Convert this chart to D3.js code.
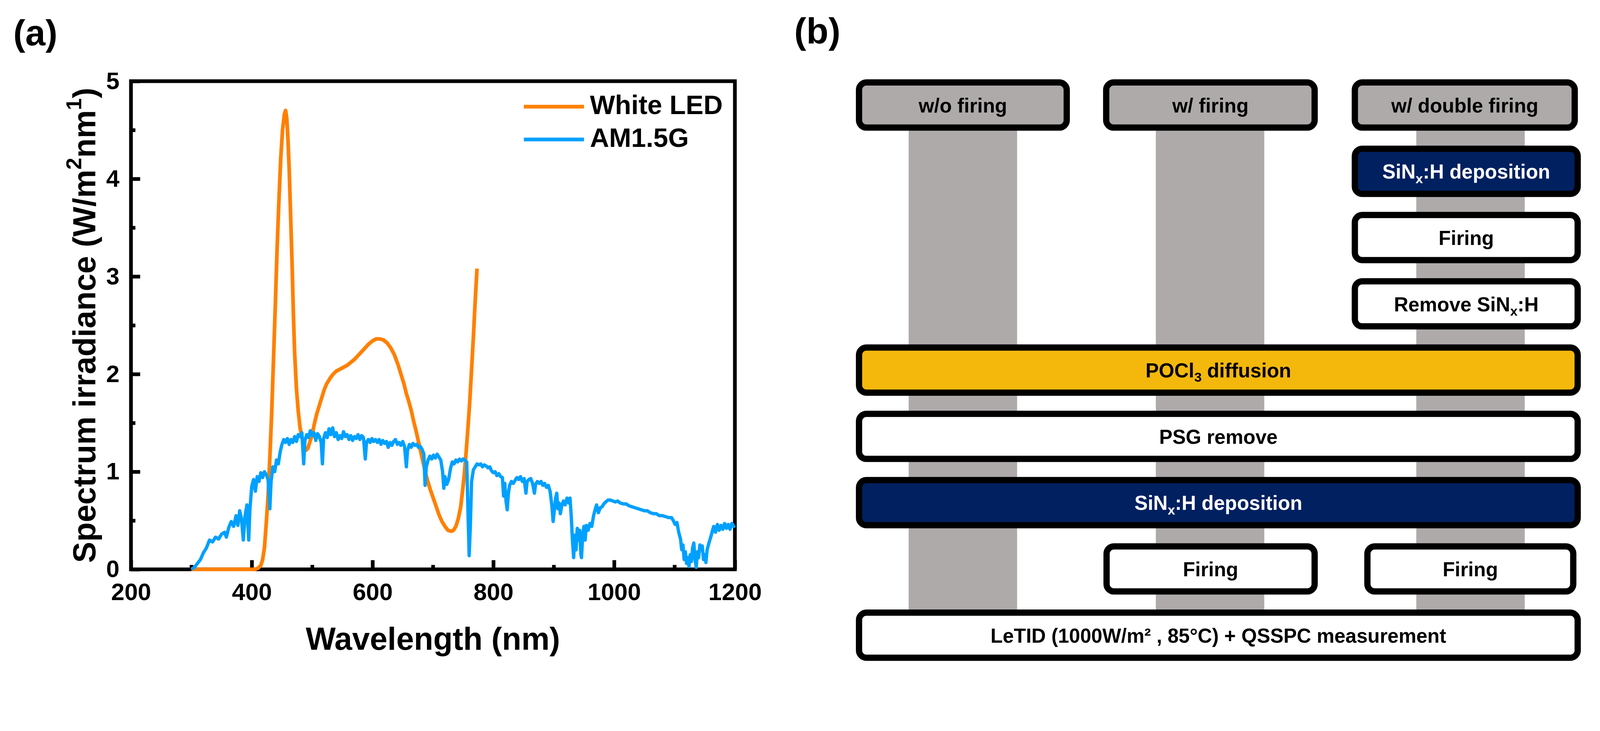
<!DOCTYPE html>
<html>
<head>
<meta charset="utf-8">
<script src="https://cdn.jsdelivr.net/npm/d3@7"></script>
<style>
html, body { margin: 0; padding: 0; width: 100%; height: 100%; overflow: hidden; background: #fff; }
svg { display: block; width: 100vw; height: 100vh; font-family: "Liberation Sans", Arial, sans-serif; font-weight: bold; }
</style>
</head>
<body>
<svg></svg>
<script>
// ---- panel (a) data ----
let ledWave = [300, 400, 405, 410, 415, 418, 421, 424, 427, 430, 433, 436, 439, 442, 445, 448, 451, 454, 456, 458, 460, 462, 464, 467, 469, 471, 474, 477, 480, 483, 486, 490, 493, 496, 500, 504, 508, 512, 516, 520, 524, 530, 535, 540, 546, 552, 558, 564, 570, 576, 582, 588, 594, 600, 606, 612, 618, 624, 630, 636, 642, 647, 652, 656, 660, 664, 668, 672, 676, 680, 684, 688, 692, 696, 700, 705, 710, 715, 720, 725, 730, 734, 738, 742, 746, 749, 752, 755, 758, 761, 764, 767, 770, 773]
let ledIrr = [0, 0, 0, 0.01, 0.04, 0.10, 0.22, 0.47, 0.75, 1.15, 1.60, 2.15, 2.70, 3.29, 3.78, 4.21, 4.50, 4.66, 4.70, 4.62, 4.40, 4.10, 3.70, 3.08, 2.60, 2.22, 1.85, 1.62, 1.45, 1.35, 1.28, 1.22, 1.24, 1.30, 1.38, 1.50, 1.60, 1.68, 1.76, 1.84, 1.90, 1.96, 2.00, 2.03, 2.05, 2.07, 2.09, 2.12, 2.15, 2.19, 2.23, 2.27, 2.31, 2.34, 2.36, 2.36, 2.35, 2.32, 2.27, 2.20, 2.10, 2.00, 1.90, 1.80, 1.72, 1.63, 1.52, 1.42, 1.31, 1.20, 1.09, 0.98, 0.89, 0.81, 0.74, 0.65, 0.56, 0.49, 0.44, 0.40, 0.39, 0.40, 0.44, 0.52, 0.64, 0.80, 0.98, 1.20, 1.45, 1.72, 2.05, 2.38, 2.75, 3.08]

let amWave = [300, 305, 310, 315, 320, 325, 330, 335, 340, 345, 350, 355, 358, 362, 366, 370, 374, 377, 380, 383, 386, 389, 392, 395, 397, 400, 403, 406, 409, 412, 415, 418, 421, 424, 427, 430, 432, 435, 438, 441, 444, 447, 450, 453, 456, 459, 462, 465, 468, 471, 474, 477, 480, 483, 486, 488, 491, 494, 497, 500, 503, 506, 509, 512, 515, 517, 519, 522, 525, 528, 531, 534, 537, 540, 543, 546, 549, 552, 555, 558, 561, 564, 567, 570, 573, 576, 579, 582, 585, 588, 590, 593, 596, 599, 602, 605, 608, 611, 614, 617, 620, 623, 626, 629, 632, 635, 638, 641, 644, 647, 650, 653, 656, 658, 661, 664, 667, 670, 673, 676, 679, 682, 685, 687, 689, 692, 695, 698, 701, 704, 707, 710, 713, 716, 718, 720, 723, 726, 729, 732, 735, 738, 741, 744, 747, 750, 753, 756, 758, 760, 762, 764, 767, 770, 773, 776, 779, 782, 785, 788, 791, 794, 797, 800, 803, 806, 809, 812, 815, 817, 819, 821, 823, 825, 827, 830, 833, 836, 839, 842, 845, 848, 851, 854, 856, 859, 862, 865, 868, 870, 873, 876, 879, 882, 885, 888, 891, 894, 897, 899, 901, 903, 905, 907, 909, 911, 913, 916, 919, 922, 925, 927, 929, 931, 933, 935, 937, 939, 941, 943, 945, 946, 948, 950, 952, 954, 957, 960, 963, 966, 969, 971, 974, 977, 980, 983, 986, 990, 994, 998, 1002, 1006, 1010, 1015, 1020, 1025, 1030, 1035, 1040, 1045, 1050, 1055, 1060, 1065, 1070, 1075, 1080, 1085, 1090, 1095, 1098, 1101, 1104, 1107, 1110, 1112, 1114, 1116, 1118, 1120, 1122, 1124, 1126, 1128, 1130, 1132, 1134, 1136, 1138, 1140, 1142, 1144, 1146, 1148, 1150, 1152, 1154, 1157, 1160, 1163, 1165, 1168, 1171, 1174, 1177, 1180, 1183, 1186, 1189, 1192, 1195, 1198, 1200]
let amIrr = [0, 0.02, 0.06, 0.10, 0.17, 0.22, 0.30, 0.28, 0.33, 0.31, 0.36, 0.38, 0.33, 0.43, 0.49, 0.44, 0.55, 0.45, 0.60, 0.52, 0.30, 0.55, 0.66, 0.30, 0.62, 0.85, 0.92, 0.80, 0.95, 0.90, 0.99, 0.94, 1.00, 0.97, 0.92, 0.62, 0.90, 1.05, 1.00, 1.12, 1.08, 1.20, 1.28, 1.33, 1.30, 1.34, 1.28, 1.33, 1.30, 1.36, 1.31, 1.38, 1.36, 1.40, 1.08, 1.32, 1.38, 1.35, 1.42, 1.37, 1.40, 1.32, 1.39, 1.36, 1.30, 1.08, 1.34, 1.40, 1.35, 1.44, 1.38, 1.45, 1.36, 1.40, 1.33, 1.37, 1.34, 1.41, 1.36, 1.38, 1.33, 1.37, 1.32, 1.36, 1.34, 1.38, 1.33, 1.37, 1.35, 1.13, 1.30, 1.33, 1.30, 1.34, 1.31, 1.33, 1.30, 1.33, 1.28, 1.32, 1.29, 1.31, 1.25, 1.30, 1.27, 1.31, 1.33, 1.28, 1.30, 1.27, 1.31, 1.26, 1.05, 1.22, 1.28, 1.25, 1.29, 1.27, 1.28, 1.25, 1.26, 1.23, 1.18, 0.86, 1.05, 1.12, 1.16, 1.13, 1.17, 1.14, 1.18, 1.15, 1.12, 1.00, 0.83, 0.95, 0.87, 0.92, 1.03, 1.10, 1.08, 1.12, 1.10, 1.13, 1.11, 1.13, 1.12, 1.10, 0.60, 0.14, 0.45, 0.90, 1.02, 1.05, 1.08, 1.07, 1.08, 1.05, 1.07, 1.06, 1.04, 1.05, 1.01, 0.99, 1.00, 0.96, 0.98, 0.95, 0.94, 0.75, 0.88, 0.70, 0.61, 0.78, 0.86, 0.90, 0.88, 0.91, 0.94, 0.92, 0.95, 0.90, 0.93, 0.78, 0.90, 0.92, 0.93, 0.88, 0.78, 0.87, 0.90, 0.88, 0.90, 0.86, 0.88, 0.84, 0.86, 0.80, 0.65, 0.49, 0.60, 0.72, 0.78, 0.62, 0.68, 0.57, 0.64, 0.70, 0.66, 0.73, 0.68, 0.73, 0.55, 0.30, 0.12, 0.35, 0.20, 0.42, 0.30, 0.40, 0.15, 0.12, 0.35, 0.44, 0.30, 0.45, 0.40, 0.47, 0.44, 0.55, 0.62, 0.66, 0.58, 0.63, 0.64, 0.67, 0.69, 0.71, 0.71, 0.70, 0.69, 0.70, 0.68, 0.67, 0.67, 0.65, 0.64, 0.63, 0.62, 0.61, 0.60, 0.60, 0.58, 0.57, 0.57, 0.55, 0.55, 0.54, 0.53, 0.53, 0.50, 0.46, 0.48, 0.38, 0.31, 0.20, 0.25, 0.10, 0.18, 0.06, 0.12, 0.03, 0.15, 0.08, 0.22, 0.27, 0.10, 0.02, 0.18, 0.12, 0.25, 0.20, 0.24, 0.10, 0.15, 0.07, 0.20, 0.27, 0.33, 0.40, 0.44, 0.38, 0.46, 0.40, 0.45, 0.41, 0.47, 0.42, 0.46, 0.41, 0.47, 0.44, 0.45]

let seriesNames = ["White LED", "AM1.5G"]
let xTicks = [200, 400, 600, 800, 1000, 1200]
let yTicks = [0, 1, 2, 3, 4, 5]

// ---- panel (b) content ----
let conditions = ["w/o firing", "w/ firing", "w/ double firing"]
let steps = [
  {parts: [["SiN"], ["x", "sub"], [":H deposition"]], row: 1, span: "right", kind: "navy"},
  {parts: [["Firing"]], row: 2, span: "right", kind: "plain"},
  {parts: [["Remove SiN"], ["x", "sub"], [":H"]], row: 3, span: "right", kind: "plain"},
  {parts: [["POCl"], ["3", "sub"], [" diffusion"]], row: 4, span: "full", kind: "gold"},
  {parts: [["PSG remove"]], row: 5, span: "full", kind: "plain"},
  {parts: [["SiN"], ["x", "sub"], [":H deposition"]], row: 6, span: "full", kind: "navy"},
  {parts: [["Firing"]], row: 7, span: "fire1", kind: "plain"},
  {parts: [["Firing"]], row: 7, span: "fire2", kind: "plain"},
  {parts: [["LeTID (1000W/m\u00b2 , 85\u00b0C) + QSSPC measurement"]], row: 8, span: "full", kind: "plain"}
]

let width = 4337
let height = 1871
let plotLeft = 355, plotRight = 1992, plotTop = 220, plotBottom = 1543

let colors = {led: "#FF8000", am: "#00A0FF", gray: "#AEAAAA", navy: "#002060", gold: "#F4B80C"}

let svg = d3.select("svg")
  .attr("viewBox", "0 0 " + width + " " + height)
  .attr("preserveAspectRatio", "xMidYMin meet")

let xScale = d3.scaleLinear().domain([200, 1200]).range([plotLeft, plotRight])
let yScale = d3.scaleLinear().domain([0, 5]).range([plotBottom, plotTop])

let drawAxes = () => {
  let yMajor = d3.axisLeft(yScale).tickValues(yTicks).tickSize(-25).tickPadding(31).tickFormat(d3.format("d"))
  let yMinor = d3.axisLeft(yScale).tickValues([0.5, 1.5, 2.5, 3.5, 4.5]).tickSize(-12).tickFormat("")
  let xMajor = d3.axisBottom(xScale).tickValues(xTicks).tickSize(-25).tickPadding(37).tickFormat(d3.format("d"))
  let xMinor = d3.axisBottom(xScale).tickValues([300, 500, 700, 900, 1100]).tickSize(-12).tickFormat("")

  let gy = svg.append("g").attr("transform", "translate(" + plotLeft + ",0)")
  gy.append("g").call(yMajor)
  gy.append("g").call(yMinor)
  let gx = svg.append("g").attr("transform", "translate(0," + plotBottom + ")")
  gx.append("g").call(xMajor)
  gx.append("g").call(xMinor)

  svg.selectAll(".domain").remove()
  svg.selectAll(".tick line").attr("stroke", "#000").attr("stroke-width", 10)
  svg.selectAll(".tick text").attr("fill", "#000").attr("font-size", 65)
     .attr("font-family", "Liberation Sans, Arial, sans-serif").attr("font-weight", "bold")

  svg.append("rect")
     .attr("x", plotLeft).attr("y", plotTop)
     .attr("width", plotRight - plotLeft).attr("height", plotBottom - plotTop)
     .attr("fill", "none").attr("stroke", "#000").attr("stroke-width", 10)
}

let drawLines = () => {
  let line = d3.line().x(d => xScale(d[0])).y(d => yScale(d[1]))
  svg.append("path")
     .datum(d3.zip(ledWave, ledIrr))
     .attr("d", line)
     .attr("fill", "none").attr("stroke", colors.led).attr("stroke-width", 10)
     .attr("stroke-linejoin", "round")
  svg.append("path")
     .datum(d3.zip(amWave, amIrr))
     .attr("d", line)
     .attr("fill", "none").attr("stroke", colors.am).attr("stroke-width", 9)
     .attr("stroke-linejoin", "round")
}

let drawLegend = () => {
  let legendColors = [colors.led, colors.am]
  let rows = [289, 378]
  seriesNames.forEach((name, i) => {
    svg.append("line")
       .attr("x1", 1420).attr("x2", 1583).attr("y1", rows[i]).attr("y2", rows[i])
       .attr("stroke", legendColors[i]).attr("stroke-width", 10)
    svg.append("text")
       .attr("x", 1599).attr("y", rows[i] + 20)
       .attr("font-size", 72)
       .text(name)
  })
}

let drawTitles = () => {
  svg.append("text")
     .attr("x", (plotLeft + plotRight) / 2).attr("y", 1761)
     .attr("text-anchor", "middle").attr("font-size", 86)
     .text("Wavelength (nm)")

  let yt = svg.append("text")
     .attr("transform", "translate(258," + ((plotTop + plotBottom) / 2) + ") rotate(-90)")
     .attr("text-anchor", "middle").attr("font-size", 86)
  yt.append("tspan").text("Spectrum irradiance (W/m")
  yt.append("tspan").attr("font-size", 58).attr("dy", -38).text("2")
  yt.append("tspan").attr("dy", 38).text("nm")
  yt.append("tspan").attr("font-size", 58).attr("dy", -38).text("1")
  yt.append("tspan").attr("dy", 38).text(")")

  svg.append("text").attr("x", 36).attr("y", 123).attr("font-size", 98).text("(a)")
  svg.append("text").attr("x", 2153).attr("y", 118).attr("font-size", 98).text("(b)")
}

// ---- panel (b) ----
let headerSpans = [[2320, 2900], [2990, 3572], [3664, 4277]]
let stripeSpans = [[2463, 2757], [3133, 3427], [3839, 4133]]
let spans = {full: [2320, 4285], right: [3664, 4285], fire1: [2991, 3572], fire2: [3698, 4273]}
let rowScale = d3.scaleBand().domain(d3.range(9)).range([215, 1791]).paddingInner(0.225)
let border = 17

let roundBox = (x0, x1, row, fill) => {
  svg.append("rect")
     .attr("x", x0 + border / 2).attr("y", rowScale(row) + border / 2)
     .attr("width", x1 - x0 - border).attr("height", rowScale.bandwidth() - border)
     .attr("rx", 20).attr("ry", 20)
     .attr("fill", fill).attr("stroke", "#000").attr("stroke-width", border)
}

let boxText = (x0, x1, row, parts, color) => {
  let t = svg.append("text")
     .attr("x", (x0 + x1) / 2).attr("y", rowScale(row) + rowScale.bandwidth() / 2 + 20)
     .attr("text-anchor", "middle").attr("font-size", 54).attr("fill", color)
  let lowered = false
  parts.forEach(p => {
    let ts = t.append("tspan").text(p[0])
    if (p[1] == "sub") {
      ts.attr("font-size", 36).attr("dy", 12)
      lowered = true
    } else if (lowered) {
      ts.attr("dy", -12)
      lowered = false
    }
  })
}

let drawFlow = () => {
  stripeSpans.forEach(s => {
    svg.append("rect")
       .attr("x", s[0]).attr("y", rowScale(0) + rowScale.bandwidth() - 2)
       .attr("width", s[1] - s[0]).attr("height", rowScale(8) - rowScale(0) - rowScale.bandwidth() + 4)
       .attr("fill", colors.gray)
  })
  conditions.forEach((c, i) => {
    roundBox(headerSpans[i][0], headerSpans[i][1], 0, colors.gray)
    boxText(headerSpans[i][0], headerSpans[i][1], 0, [[c]], "#000")
  })
  let fills = {navy: colors.navy, gold: colors.gold, plain: "#fff"}
  steps.forEach(s => {
    let sp = spans[s.span]
    roundBox(sp[0], sp[1], s.row, fills[s.kind])
    boxText(sp[0], sp[1], s.row, s.parts, s.kind == "navy" ? "#fff" : "#000")
  })
}

drawAxes()
drawLines()
drawLegend()
drawTitles()
drawFlow()
</script>
</body>
</html>
